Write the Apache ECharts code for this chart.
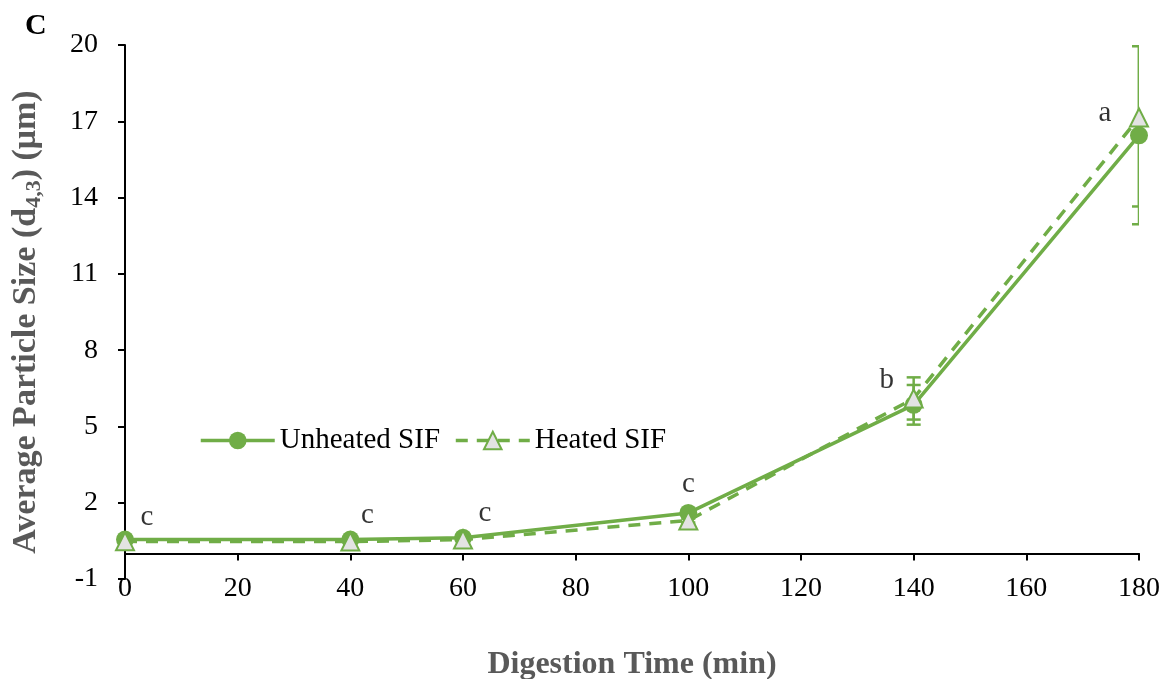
<!DOCTYPE html>
<html lang="en">
<head>
    <meta charset="UTF-8">
    <title>Average Particle Size vs Digestion Time</title>
    <script src="https://cdn.jsdelivr.net/npm/echarts@6/dist/echarts.min.js"></script>
    <style>
        html, body { margin: 0; padding: 0; background: #fff; }
        #main { width: 1164px; height: 679px; }
    </style>
</head>
<body>
    <div id="main"></div>
    <script>
        // data
        const times = [0, 40, 60, 100, 140, 180];
        const unheated = [0.55, 0.55, 0.62, 1.6, 5.85, 16.45];
        const heated = [0.48, 0.47, 0.55, 1.3, 6.1, 17.15];
        const unheatedErr = [0.04, 0.04, 0.04, 0.08, 0.78, 3.5];
        const heatedErr = [0.04, 0.04, 0.04, 0.08, 0.83, 3.5];
        const letters = ['c', 'c', 'c', 'c', 'b', 'a'];
        const yTicks = [-1, 2, 5, 8, 11, 14, 17, 20];

        const green = '#70ad47';
        const serif = "'Liberation Serif', 'Times New Roman', serif";

        // where each letter sits next to its point
        const letterOffsets = [[22, -22], [17, -24], [22, -24], [0, -28], [-27, -18], [-34, -4]];

        function errData(vals, errs) {
            return times.map((t, i) => [t, vals[i], errs[i]]);
        }

        function renderErr(params, api) {
            const x = api.value(0), y = api.value(1), e = api.value(2);
            const top = api.coord([x, y + e]);
            const bot = api.coord([x, y - e]);
            const w = 7;
            const style = { stroke: green, lineWidth: 2.5 };
            return {
                type: 'group',
                children: [
                    { type: 'line', shape: { x1: top[0], y1: top[1], x2: bot[0], y2: bot[1] }, style: style },
                    { type: 'line', shape: { x1: top[0] - w, y1: top[1], x2: top[0] + w, y2: top[1] }, style: style },
                    { type: 'line', shape: { x1: bot[0] - w, y1: bot[1], x2: bot[0] + w, y2: bot[1] }, style: style }
                ]
            };
        }

        const chart = echarts.init(document.getElementById('main'));
        const option = {
            animation: false,
            textStyle: { fontFamily: serif },
            title: {
                text: 'C',
                left: 20, top: 6,
                textStyle: { fontFamily: serif, fontSize: 30, fontWeight: 'bold', color: '#000' }
            },
            grid: { left: 125, right: 25, top: 45, bottom: 100, containLabel: false, outerBoundsMode: 'none' },
            legend: {
                left: 194, top: 421,
                itemWidth: 74, itemHeight: 22, itemGap: 14,
                textStyle: { fontFamily: serif, fontSize: 29, color: '#000' },
                data: [
                    { name: 'Unheated SIF', lineStyle: { width: 3.5 } },
                    { name: 'Heated SIF', lineStyle: { width: 3.5 } }
                ]
            },
            xAxis: {
                type: 'value',
                min: 0, max: 180, interval: 20,
                name: 'Digestion Time (min)',
                nameLocation: 'middle',
                nameGap: 70,
                nameTextStyle: { fontFamily: serif, fontSize: 32, fontWeight: 'bold', color: '#595959' },
                axisLine: { onZero: true, lineStyle: { color: '#000', width: 2 } },
                axisTick: { length: 7, lineStyle: { color: '#000', width: 2 } },
                axisLabel: { fontSize: 28, color: '#000', margin: -4 },
                splitLine: { show: false }
            },
            yAxis: {
                type: 'value',
                min: -1, max: 20,
                name: '{t|Average Particle Size (d}{s|4,3}{t|) (μm)}',
                nameLocation: 'middle',
                nameGap: 80,
                nameTextStyle: {
                    color: '#595959',
                    padding: [0, 20, 0, 0],
                    rich: {
                        t: { fontFamily: serif, fontSize: 34, fontWeight: 'bold', color: '#595959' },
                        s: { fontFamily: serif, fontSize: 22, fontWeight: 'bold', color: '#595959', padding: [16, 0, 0, 0] }
                    }
                },
                axisLine: { show: true, lineStyle: { color: '#000', width: 2 } },
                axisTick: { show: true, length: 7, customValues: yTicks, lineStyle: { color: '#000', width: 2 } },
                axisLabel: { fontSize: 28, color: '#000', margin: 27, customValues: yTicks },
                splitLine: { show: false }
            },
            series: [
                {
                    type: 'custom',
                    name: 'errU',
                    renderItem: renderErr,
                    data: errData(unheated, unheatedErr),
                    clip: true,
                    z: 1
                },
                {
                    type: 'custom',
                    name: 'errH',
                    renderItem: renderErr,
                    data: errData(heated, heatedErr),
                    clip: true,
                    z: 1
                },
                {
                    name: 'Unheated SIF',
                    type: 'line',
                    data: times.map((t, i) => [t, unheated[i]]),
                    symbol: 'circle',
                    symbolSize: 18,
                    itemStyle: { color: green },
                    lineStyle: { color: green, width: 3.5 },
                    z: 3
                },
                {
                    name: 'Heated SIF',
                    type: 'line',
                    data: times.map((t, i) => [t, heated[i]]),
                    symbol: 'triangle',
                    symbolSize: 18,
                    itemStyle: { color: '#e3e3e3', borderColor: green, borderWidth: 2 },
                    lineStyle: { color: green, width: 3.5, type: [12, 9] },
                    z: 4
                },
                {
                    type: 'scatter',
                    name: 'letters',
                    symbolSize: 0,
                    silent: true,
                    data: times.map((t, i) => ({
                        value: [t, Math.max(unheated[i], heated[i])],
                        label: {
                            show: true,
                            position: 'inside',
                            offset: letterOffsets[i],
                            formatter: letters[i],
                            fontFamily: serif,
                            fontSize: 29,
                            color: '#000'
                        }
                    })),
                    z: 5
                }
            ]
        };
        chart.setOption(option);
    </script>
</body>
</html>
